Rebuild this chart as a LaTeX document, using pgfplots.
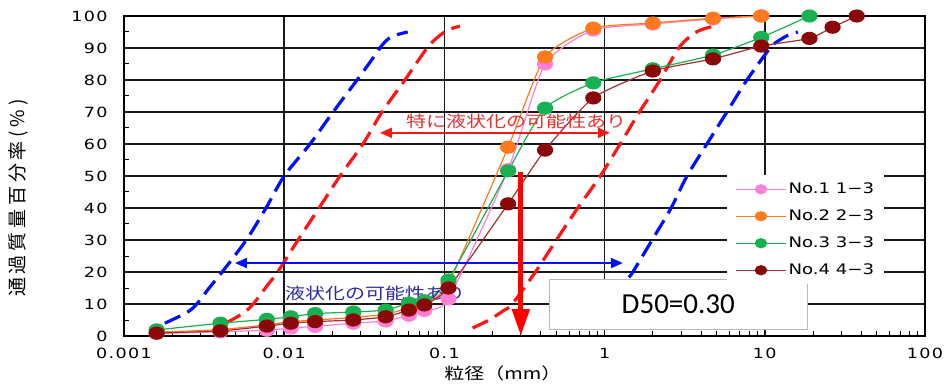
\documentclass[border=0pt]{standalone}
\usepackage{fontspec}
\usepackage{pgfplots}
\pgfplotsset{compat=1.18}
\usetikzlibrary{arrows.meta}
\newfontfamily\tickfont{DejaVu Sans}[FakeStretch=1.25,LetterSpace=10]
\newfontfamily\legfont{DejaVu Sans}[FakeStretch=1.25]
\newfontfamily\jpfont{Noto Sans CJK JP}[FakeStretch=1.25]
\newfontfamily\jpyfont{Noto Sans CJK JP}[LetterSpace=20]
\newfontfamily\calfont{Carlito}
\definecolor{cpink}{HTML}{FF80D4}
\definecolor{corange}{HTML}{FF7A1F}
\definecolor{cgreen}{HTML}{18B050}
\definecolor{cdred}{HTML}{8B0808}
\definecolor{cdredl}{HTML}{A03030}
\definecolor{dblue}{HTML}{0010FF}
\definecolor{dred}{HTML}{FF1515}
\definecolor{tblue}{HTML}{2A2AA8}
\definecolor{tred}{HTML}{EE3030}
\begin{document}
\begin{tikzpicture}
\begin{axis}[
  xmode=log, scale only axis, width=801pt, height=320pt,
  xmin=0.001, xmax=100, ymin=0, ymax=100,
  xtick={0.001,0.01,0.1,1,10,100},
  xticklabels={0.001,0.01,0.1,1,10,100},
  ytick={0,10,20,30,40,50,60,70,80,90,100},
  yticklabels={0,10,20,30,40,50,60,70,80,90,100},
  minor ytick={5,15,25,35,45,55,65,75,85,95},
  grid=major,
  major grid style={black!90, line width=1.6pt},
  axis line style={black, line width=1.8pt},
  xtick pos=bottom, ytick pos=left, tick align=inside,
  major tick length=0pt, minor tick length=5pt,
  minor tick style={black, line width=1pt},
  tick label style={font=\fontsize{14}{16}\selectfont\tickfont},
  yticklabel style={xshift=-13pt},
  xticklabel style={yshift=-9pt},
  xlabel={粒径（mm）},
  xlabel style={at={(axis description cs:0.473,-0.116)}, anchor=center, font=\fontsize{16}{18}\selectfont\jpfont},
  ylabel={通過質量百分率(\%)},
  ylabel style={at={(axis description cs:-0.1323,0.431)}, anchor=center, font=\fontsize{19}{21}\selectfont\jpyfont},
  legend style={at={(rel axis cs:0.753,0.503)}, anchor=north west, draw=none, fill=white,
    font=\fontsize{14.5}{17}\selectfont\legfont, row sep=9pt, inner xsep=8pt, inner ysep=5pt,
    nodes={inner sep=2pt, text height=11pt, text depth=3pt}},
  legend cell align=left,
  legend image code/.code={\draw[mark repeat=2,mark phase=2,#1,mark size=4.5pt] plot coordinates {(0pt,0pt) (25pt,0pt) (50pt,0pt)};},
]
% envelope curves
\addplot[dblue, line width=3.2pt, dash pattern=on 17pt off 8pt, smooth, tension=0.5, forget plot] coordinates {
(0.0018,4) (0.0025,7.5) (0.0029,10.5) (0.0034,15) (0.0041,20) (0.0058,30) (0.0077,40) (0.01,50) (0.0145,60) (0.0202,70) (0.0285,80) (0.036,87) (0.041,91) (0.047,93.6) (0.059,95)};
\addplot[dred, line width=3.2pt, dash pattern=on 17pt off 8pt, smooth, tension=0.5, forget plot] coordinates {
(0.0043,4) (0.0055,7) (0.0064,10) (0.0079,16) (0.0091,20) (0.0122,30) (0.0165,40) (0.0223,50) (0.031,60) (0.0408,70) (0.0567,80) (0.078,90) (0.094,94) (0.11,96) (0.125,96.8)};
\addplot[dred, line width=3.2pt, dash pattern=on 17pt off 8pt, smooth, tension=0.5, forget plot] coordinates {
(0.15,2.5) (0.19,5) (0.235,8) (0.265,10) (0.37,20) (0.5,30) (0.68,40) (0.94,50) (1.25,60) (1.65,70) (2.22,80) (2.9,90) (3.6,94.5) (4.3,96.2) (5.1,97)};
\addplot[dblue, line width=3.2pt, dash pattern=on 17pt off 8pt, smooth, tension=0.5, forget plot] coordinates {
(1.15,12) (1.4,18) (1.5,20) (1.98,30) (2.6,40) (3.27,50) (4.35,60) (5.8,70) (7.74,80) (10.8,90) (12.4,92.5) (14,94) (16.1,95)};
% sample curves
\addplot[cpink, line width=1.2pt, mark=*, mark size=6pt, mark options={xscale=1.25, fill=cpink, draw=cpink}, smooth, tension=0.35] coordinates {
(0.0016,0.8) (0.004,1.3) (0.0078,1.8) (0.011,2.5) (0.0156,3) (0.027,4) (0.043,4.7) (0.060,6.5) (0.075,8) (0.106,11.6) (0.25,52) (0.425,85) (0.85,95.6) (2.0,97.5) (4.75,99.1) (9.5,100)};
\addlegendentry{No.1 1−3}
\addplot[corange, line width=1.2pt, mark=*, mark size=6pt, mark options={xscale=1.25, fill=corange, draw=corange}, smooth, tension=0.35] coordinates {
(0.0016,1.2) (0.004,2) (0.0078,3.5) (0.011,4.5) (0.0156,5) (0.027,5.8) (0.043,6.8) (0.060,8.8) (0.075,10.2) (0.106,16.5) (0.25,59) (0.425,87.2) (0.85,96.2) (2.0,97.8) (4.75,99.3) (9.5,100)};
\addlegendentry{No.2 2−3}
\addplot[cgreen, line width=1.2pt, mark=*, mark size=6pt, mark options={xscale=1.25, fill=cgreen, draw=cgreen}, smooth, tension=0.35] coordinates {
(0.0016,1.9) (0.004,4) (0.0078,5.2) (0.011,6) (0.0156,7) (0.027,7.5) (0.043,8.1) (0.060,10.3) (0.075,11) (0.106,17.5) (0.25,51.6) (0.425,71.2) (0.85,79.1) (2.0,83.5) (4.75,87.8) (9.5,93.3) (19,100)};
\addlegendentry{No.3 3−3}
\addplot[cdredl, line width=1.2pt, mark=*, mark size=6pt, mark options={xscale=1.25, fill=cdred, draw=cdred}, smooth, tension=0.35] coordinates {
(0.0016,0.9) (0.004,1.6) (0.0078,3.1) (0.011,4) (0.0156,4.5) (0.027,5) (0.043,6) (0.060,8.1) (0.075,9.7) (0.106,15) (0.25,41.3) (0.425,58.1) (0.85,74.4) (2.0,82.8) (4.75,86.6) (9.5,90.6) (19,93) (26.5,96.5) (37.5,100)};
\addlegendentry{No.4 4−3}
% annotations
\draw[dred, line width=2pt, {Triangle[length=12pt,width=10pt]}-{Triangle[length=12pt,width=10pt]}] (axis cs:0.0396,63.5) -- (axis cs:1.08,63.5);
\node[text=tred, font=\fontsize{16}{18}\selectfont\jpfont] at (axis cs:0.28,67.2) {特に液状化の可能性あり};
\draw[dblue, line width=2pt, {Triangle[length=12pt,width=10pt]}-{Triangle[length=12pt,width=10pt]}] (axis cs:0.00493,22.8) -- (axis cs:1.30,22.8);
\node[text=tblue, font=\fontsize{16}{18}\selectfont\jpfont] at (axis cs:0.0369,13.4) {液状化の可能性あり};
\draw[red, line width=5pt, -{Triangle[length=27pt,width=17pt]}] (axis cs:0.3,51.3) -- (axis cs:0.3,0);
\node[draw=gray!55, line width=1.3pt, fill=white, minimum width=258pt, minimum height=50pt, inner sep=0pt, font=\fontsize{29}{33}\selectfont\calfont] at (rel axis cs:0.692,0.0984) {D50=0.30};
\end{axis}
\pgfresetboundingbox
\path (current axis.south west) ++(-124pt,-52pt) rectangle ++(952pt,388pt);
\end{tikzpicture}
\end{document}
